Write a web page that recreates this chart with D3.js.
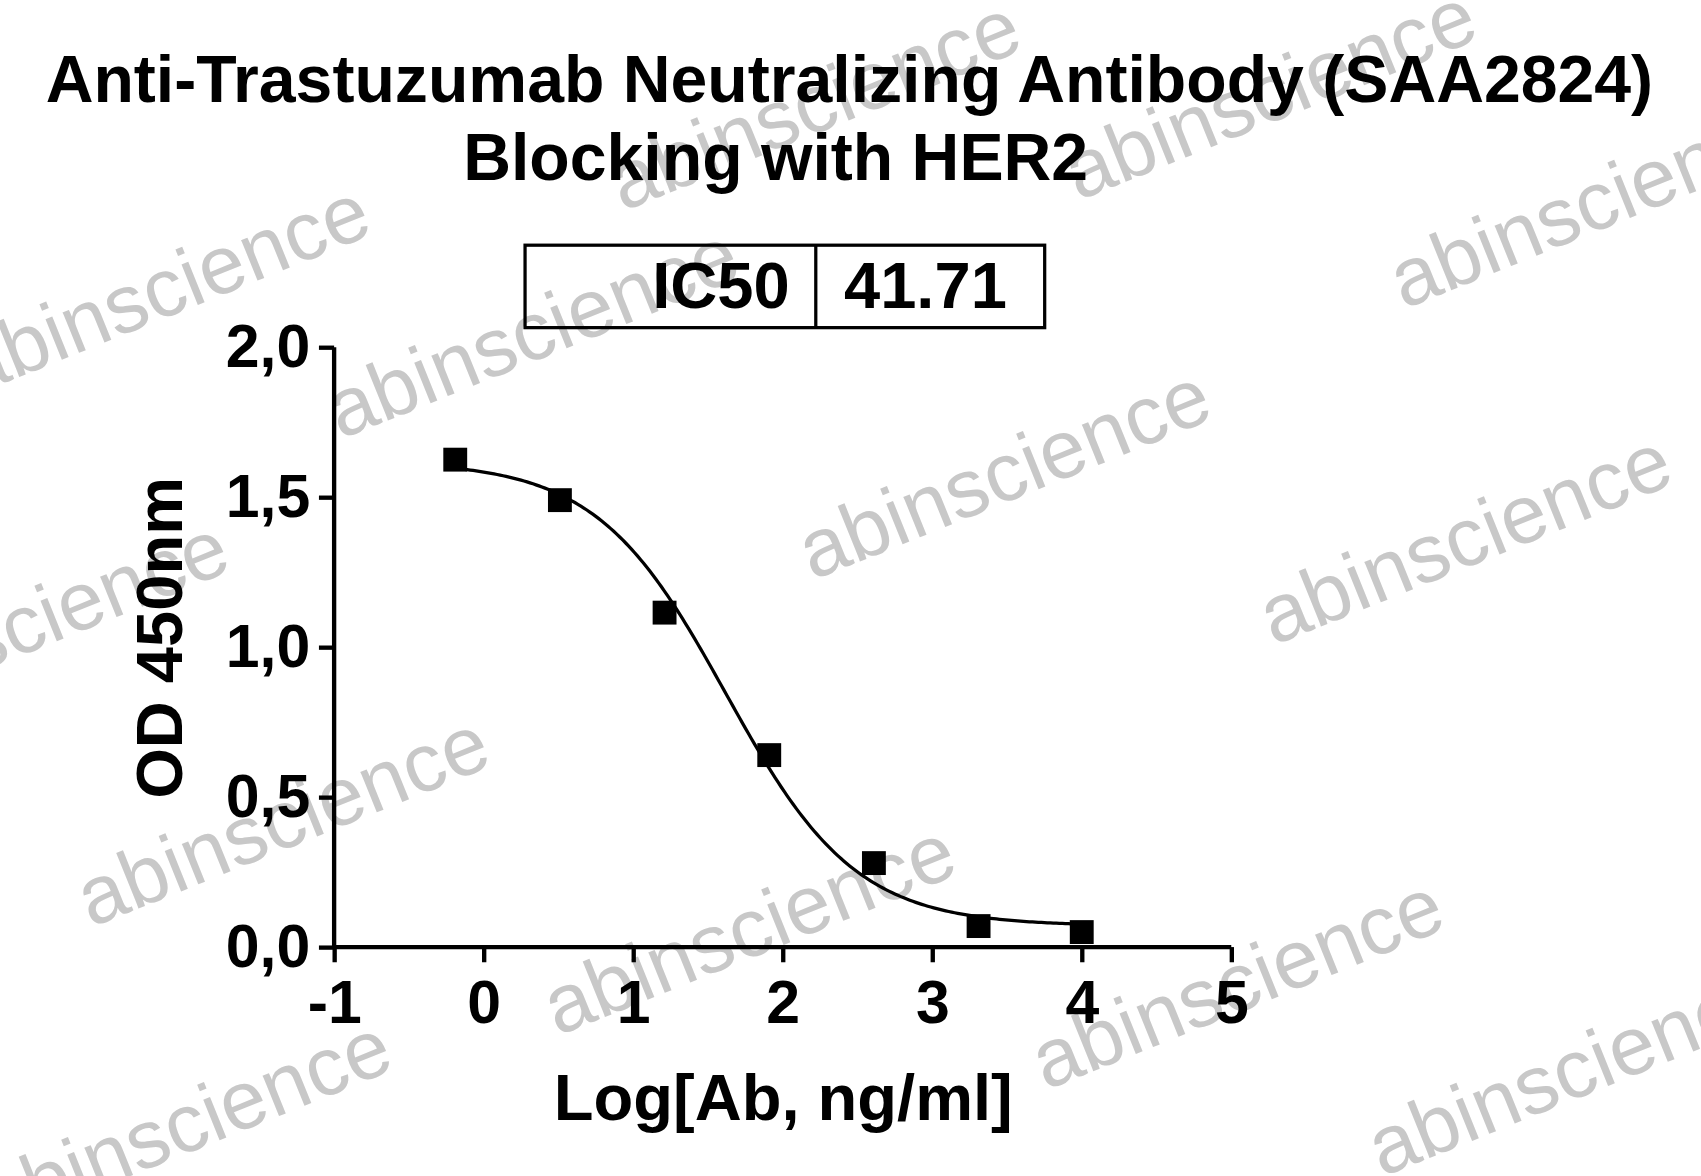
<!DOCTYPE html>
<html><head><meta charset="utf-8">
<script src="https://cdn.jsdelivr.net/npm/d3@7/dist/d3.min.js"></script>
<style>body{margin:0;background:#fff}text{font-family:"Liberation Sans",Arial,sans-serif;font-weight:bold}</style>
</head><body><svg id="c" width="1701" height="1176" viewBox="0 0 1568 1084"></svg>
<script>
const logConc = [-0.19, 0.51, 1.21, 1.91, 2.61, 3.31, 4.0];
const od = [1.625, 1.49, 1.115, 0.64, 0.28, 0.07, 0.05];
const xTicks = [-1, 0, 1, 2, 3, 4, 5];
const yTicks = [0, 0.5, 1.0, 1.5, 2.0];
// 4PL fit parameters
const fitTop = 1.62, fitBottom = 0.07, logIC50 = Math.log10(41.71), hill = 1.0;

const svg = d3.select('#c');
const x = d3.scaleLinear().domain([-1, 5]).range([308, 1135]);
const y = d3.scaleLinear().domain([0, 2]).range([873, 320]);

// watermarks
const wm = [[160,290],[270,780],[500,330],[760,120],[935,460],[1180,110],[1360,520],[1480,210],[700,880],[1150,930],[1460,1010],[180,1060],[30,600]];
wm.forEach(([cx, cy]) => svg.append('text').attr('transform', `translate(${cx},${cy}) rotate(-22)`)
  .attr('text-anchor', 'middle').attr('font-size', 76).style('font-weight', 'normal')
  .attr('fill', '#bbb').attr('opacity', 0.8).text('abinscience'));

svg.append('text').attr('x', 783).attr('y', 94).attr('text-anchor', 'middle').attr('font-size', 61)
  .text('Anti-Trastuzumab Neutralizing Antibody (SAA2824)');
svg.append('text').attr('x', 715).attr('y', 166).attr('text-anchor', 'middle').attr('font-size', 61)
  .text('Blocking with HER2');

// IC50 box
svg.append('rect').attr('x', 484).attr('y', 226).attr('width', 479).attr('height', 76)
  .attr('fill', 'none').attr('stroke', '#000').attr('stroke-width', 3);
svg.append('line').attr('x1', 752).attr('x2', 752).attr('y1', 226).attr('y2', 302).attr('stroke', '#000').attr('stroke-width', 3);
svg.append('text').attr('x', 728).attr('y', 284).attr('text-anchor', 'end').attr('font-size', 60).text('IC50');
svg.append('text').attr('x', 778).attr('y', 284).attr('font-size', 60).text('41.71');

const xa = svg.append('g').attr('transform', 'translate(0,873)')
  .call(d3.axisBottom(x).tickValues(xTicks).tickFormat(d => String(d)).tickSize(14).tickPadding(16));
const ya = svg.append('g').attr('transform', 'translate(308,0)')
  .call(d3.axisLeft(y).tickValues(yTicks).tickFormat(d => d.toFixed(1).replace('.', ',')).tickSize(14).tickPadding(8));
[xa, ya].forEach(a => {
  a.selectAll('path,line').attr('stroke', '#000').attr('stroke-width', 4);
  a.selectAll('text').attr('font-size', 56).attr('fill', '#000').style('font-family', '"Liberation Sans",Arial,sans-serif').style('font-weight', 'bold');
});
xa.select('.domain').attr('d', 'M308,0H1135');
ya.select('.domain').attr('d', 'M0,873V320');

svg.append('text').attr('x', 722).attr('y', 1032).attr('text-anchor', 'middle').attr('font-size', 60).text('Log[Ab, ng/ml]');
svg.append('text').attr('transform', 'translate(168,588) rotate(-90)').attr('text-anchor', 'middle').attr('font-size', 60).text('OD 450nm');

const fit = d3.range(logConc[0], logConc[logConc.length - 1] + 0.001, 0.02)
  .map(v => [v, fitBottom + (fitTop - fitBottom) / (1 + Math.pow(10, (v - logIC50) * hill))]);
svg.append('path').attr('d', d3.line().x(d => x(d[0])).y(d => y(d[1]))(fit))
  .attr('fill', 'none').attr('stroke', '#000').attr('stroke-width', 3);

svg.selectAll('.pt').data(logConc).enter().append('rect')
  .attr('x', (d) => x(d) - 11).attr('y', (d, i) => y(od[i]) - 11)
  .attr('width', 22).attr('height', 22).attr('fill', '#000');
</script></body></html>
